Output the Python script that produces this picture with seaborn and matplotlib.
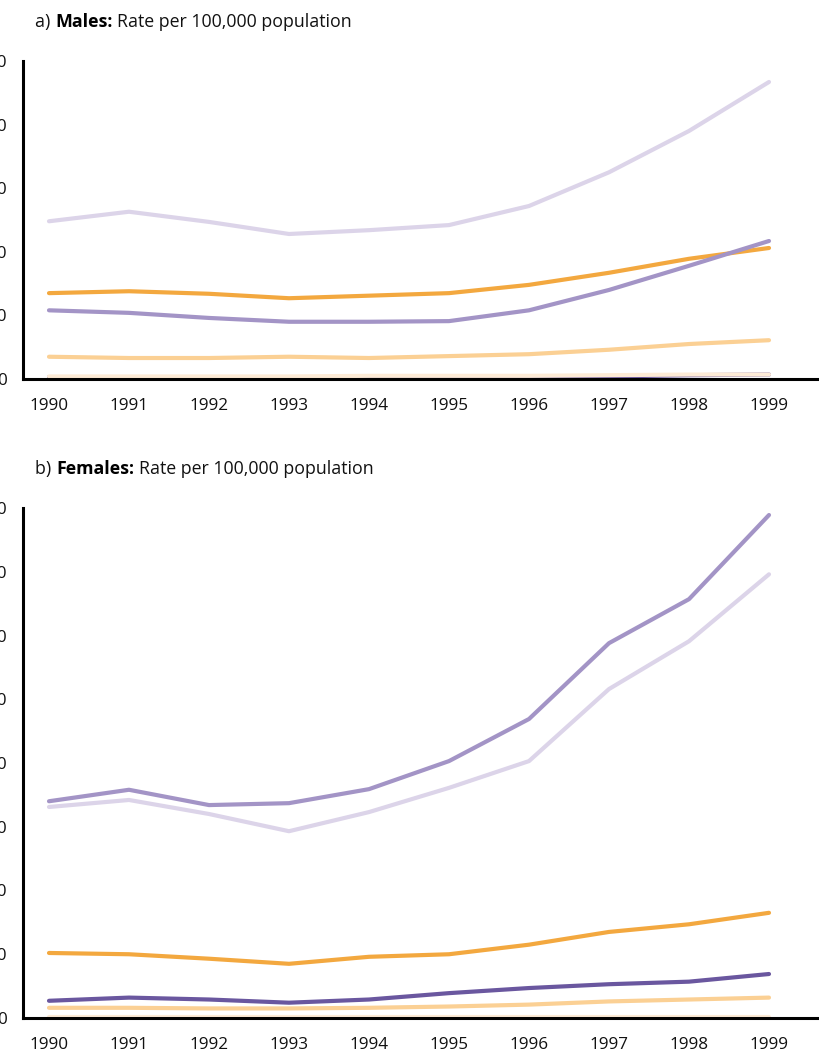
import matplotlib
matplotlib.use("Agg")
import matplotlib.pyplot as plt
import seaborn as sns
import pandas as pd

years = list(range(1990, 2000))

# Males, rate per 100,000 population
male_lavender = [24.8, 26.3, 24.7, 22.8, 23.4, 24.2, 27.2, 32.5, 39.0, 46.7]
male_orange = [13.5, 13.8, 13.4, 12.7, 13.1, 13.5, 14.8, 16.7, 18.9, 20.6]
male_purple = [10.8, 10.4, 9.6, 9.0, 9.0, 9.1, 10.8, 14.0, 17.8, 21.7]
male_light_orange = [3.5, 3.3, 3.3, 3.5, 3.3, 3.6, 3.9, 4.6, 5.5, 6.1]
male_dark_purple = [0.3, 0.3, 0.3, 0.3, 0.3, 0.3, 0.4, 0.4, 0.6, 0.7]
male_cream = [0.4, 0.4, 0.4, 0.4, 0.5, 0.5, 0.5, 0.6, 0.7, 0.7]

# Females, rate per 100,000 population
female_lavender = [33.1, 34.2, 32.0, 29.3, 32.3, 36.1, 40.3, 51.6, 59.1, 69.6]
female_orange = [10.2, 10.0, 9.3, 8.5, 9.6, 10.0, 11.5, 13.5, 14.7, 16.5]
female_purple = [34.0, 35.8, 33.4, 33.7, 35.9, 40.3, 46.9, 58.8, 65.7, 78.9]
female_light_orange = [1.6, 1.6, 1.5, 1.5, 1.6, 1.8, 2.1, 2.6, 2.9, 3.2]
female_dark_purple = [2.7, 3.2, 2.9, 2.4, 2.9, 3.9, 4.7, 5.3, 5.7, 6.9]
female_cream = [0.1, 0.1, 0.1, 0.1, 0.1, 0.1, 0.1, 0.1, 0.1, 0.1]

male_ticks = [0, 10, 20, 30, 40, 50]
female_ticks = [0, 10, 20, 30, 40, 50, 60, 70, 80]

series_order = ["lavender", "orange", "purple", "light_orange", "dark_purple", "cream"]
palette = {
    "lavender": "#dcd4e9",
    "orange": "#f3a83f",
    "purple": "#a394c6",
    "light_orange": "#fbd094",
    "dark_purple": "#6a579f",
    "cream": "#fdebd6",
}


def long_frame(groups):
    rows = []
    for name, vals in groups.items():
        for y, v in zip(years, vals):
            rows.append({"year": y, "rate": v, "series": name})
    return pd.DataFrame(rows)


males = long_frame({
    "lavender": male_lavender,
    "orange": male_orange,
    "purple": male_purple,
    "light_orange": male_light_orange,
    "dark_purple": male_dark_purple,
    "cream": male_cream,
})
females = long_frame({
    "lavender": female_lavender,
    "orange": female_orange,
    "purple": female_purple,
    "light_orange": female_light_orange,
    "dark_purple": female_dark_purple,
    "cream": female_cream,
})

sns.set_theme(style="white")
plt.rcParams["font.family"] = ["Open Sans", "DejaVu Sans"]

W, H = 820, 1057
fig = plt.figure(figsize=(W / 100, H / 100), dpi=100)

TICK_SIZE = 12.3
HEAD_SIZE = 12.8


def px_axes(left, top, bottom):
    return fig.add_axes([left / W, 1 - bottom / H, 1 - left / W, (bottom - top) / H])


def style_axes(ax, ticks):
    ax.set_xlim(1990 - 26 / 80, 1999 + 51 / 80)
    ax.set_ylim(ticks[0], ticks[-1])
    ax.set_xticks(years)
    ax.set_xticklabels([str(y) for y in years])
    ax.set_yticks(ticks)
    ax.set_yticklabels([str(t) for t in ticks])
    for side in ("top", "right"):
        ax.spines[side].set_visible(False)
    for side in ("left", "bottom"):
        ax.spines[side].set_linewidth(2.2)
        ax.spines[side].set_color("black")
    ax.tick_params(axis="x", direction="out", length=7.5, width=1.8,
                   color="black", labelsize=TICK_SIZE, pad=6, labelcolor="#111111")
    ax.tick_params(axis="y", direction="in", length=10, width=1.8,
                   color="black", labelsize=TICK_SIZE, pad=11.5, labelcolor="#111111")
    ax.set_xlabel("")
    ax.set_ylabel("")
    ax.grid(False)


def draw(ax, data):
    sns.lineplot(data=data, x="year", y="rate", hue="series",
                 hue_order=series_order, palette=palette, linewidth=3.0,
                 ax=ax, legend=False, clip_on=False, solid_capstyle="round")


def heading(y_px, prefix, bold, rest):
    t1 = fig.text(35 / W, 1 - y_px / H, prefix, fontsize=HEAD_SIZE,
                  va="center", ha="left", color="#111111")
    b = fig.text(0, 0, bold, fontsize=HEAD_SIZE, fontweight="bold")
    b.remove()
    b = plt.annotate(bold, xy=(1, 0.5), xycoords=t1, xytext=(0, 0),
                     textcoords="offset points", fontsize=HEAD_SIZE,
                     fontweight="bold", va="center", ha="left",
                     annotation_clip=False, color="black")
    plt.annotate(rest, xy=(1, 0.5), xycoords=b, xytext=(3.5, 0),
                 textcoords="offset points", fontsize=HEAD_SIZE,
                 va="center", ha="left", annotation_clip=False, color="#111111")


ax1 = px_axes(23, 61, 379)
draw(ax1, males)
style_axes(ax1, male_ticks)

ax2 = px_axes(23, 508, 1018)
draw(ax2, females)
style_axes(ax2, female_ticks)

heading(22, "a) ", "Males:", "Rate per 100,000 population")
heading(469, "b) ", "Females:", "Rate per 100,000 population")

fig.savefig("out.png", dpi=100, facecolor="white")
